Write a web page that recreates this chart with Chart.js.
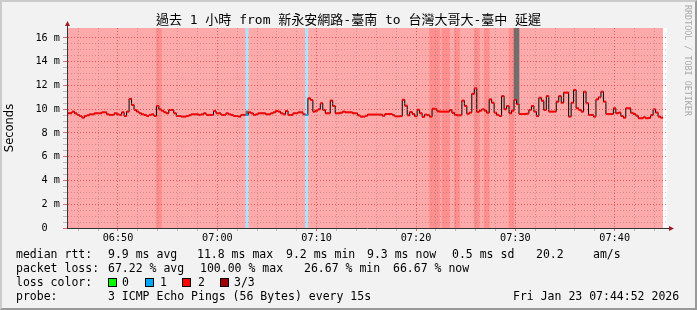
<!DOCTYPE html>
<html>
<head>
<meta charset="utf-8">
<script src="https://cdn.jsdelivr.net/npm/chart.js@4"></script>
<style>
  body { margin: 0; background: #fff; }
  #wrap { position: relative; width: 697px; height: 310px; background: #f2f2f2; overflow: hidden; }
  #wrap canvas { position: absolute; left: 0; top: 0; }
  .frame { position: absolute; left: 0; top: 0; width: 697px; height: 310px; box-sizing: border-box;
           border-style: solid; border-width: 2px; border-color: #cbcbcb #999 #999 #cbcbcb; pointer-events: none; }
  .txt { position: absolute; font: 11.5px "DejaVu Sans Mono", monospace; line-height: 14px; white-space: pre; color: #000; }
  .sw { position: absolute; width: 7px; height: 7px; border: 1px solid #000; }
  .credit { position: absolute; left: 683px; top: 5px; writing-mode: vertical-rl; font: 8.4px "DejaVu Sans Mono", monospace;
            line-height: 9px; color: #aaaaaa; }
</style>
</head>
<body>
<div id="wrap">
  <canvas id="rtt" width="697" height="310"></canvas>
  <div class="frame"></div>
  <div class="credit">RRDTOOL / TOBI OETIKER</div>

  <div class="txt" style="left:16px;top:247px">median rtt:</div>
  <div class="txt" style="left:108px;top:247px">9.9 ms avg</div>
  <div class="txt" style="left:197px;top:247px">11.8 ms max</div>
  <div class="txt" style="left:286px;top:247px">9.2 ms min</div>
  <div class="txt" style="left:367px;top:247px">9.3 ms now</div>
  <div class="txt" style="left:452px;top:247px">0.5 ms sd</div>
  <div class="txt" style="left:536px;top:247px">20.2</div>
  <div class="txt" style="left:593px;top:247px">am/s</div>

  <div class="txt" style="left:16px;top:261px">packet loss:</div>
  <div class="txt" style="left:108px;top:261px">67.22 % avg</div>
  <div class="txt" style="left:200px;top:261px">100.00 % max</div>
  <div class="txt" style="left:304px;top:261px">26.67 % min</div>
  <div class="txt" style="left:393px;top:261px">66.67 % now</div>

  <div class="txt" style="left:16px;top:275px">loss color:</div>
  <div class="sw" style="left:108px;top:278px;background:#00ff00"></div>
  <div class="txt" style="left:122px;top:275px">0</div>
  <div class="sw" style="left:145px;top:278px;background:#00a8ff"></div>
  <div class="txt" style="left:160px;top:275px">1</div>
  <div class="sw" style="left:182px;top:278px;background:#ff0000"></div>
  <div class="txt" style="left:198px;top:275px">2</div>
  <div class="sw" style="left:220px;top:278px;background:#a00000"></div>
  <div class="txt" style="left:234px;top:275px">3/3</div>

  <div class="txt" style="left:16px;top:289px">probe:</div>
  <div class="txt" style="left:108px;top:289px">3 ICMP Echo Pings (56 Bytes) every 15s</div>
  <div class="txt" style="left:513px;top:289px">Fri Jan 23 07:44:52 2026</div>
</div>

<script>
  // Time base: one hour of 15s steps, starting 06:44:52
  const startSec = 6 * 3600 + 44 * 60 + 52;
  const stepSec = 15;

  // Median RTT per step (ms)
  const medianRtt = [
    9.66, 9.66, 9.80, 9.66, 9.52, 9.43, 9.29, 9.43, 9.49, 9.57,
    9.57, 9.66, 9.66, 9.66, 9.74, 9.74, 9.57, 9.52, 9.52, 9.66,
    9.57, 9.52, 9.74, 9.43, 9.80, 10.87, 10.36, 9.94, 9.80, 9.66,
    9.57, 9.52, 9.43, 9.52, 9.57, 9.43, 10.27, 9.99, 9.88, 9.74,
    9.66, 9.94, 9.94, 9.66, 9.43, 9.43, 9.38, 9.38, 9.43, 9.49,
    9.57, 9.57, 9.57, 9.52, 9.57, 9.66, 9.52, 9.52, 9.52, 9.85,
    9.66, 9.66, 9.52, 9.52, 9.66, 9.57, 9.52, 9.43, 9.43, 9.38,
    9.52, 9.52, 9.52, 9.74, 9.66, 9.52, 9.57, 9.66, 9.66, 9.66,
    9.57, 9.57, 9.66, 9.74, 9.85, 9.80, 9.66, 9.57, 9.85, 9.52,
    9.52, 9.66, 9.66, 9.74, 9.74, 9.57, 9.52, 10.92, 10.78, 9.80,
    9.88, 9.99, 10.50, 9.94, 9.66, 9.66, 10.73, 10.27, 9.66, 9.66,
    9.71, 9.80, 9.74, 9.74, 9.74, 9.66, 9.66, 9.49, 9.38, 9.38,
    9.45, 9.55, 9.55, 9.55, 9.55, 9.55, 9.55, 9.45, 9.60, 9.60,
    9.60, 9.50, 9.40, 9.40, 9.42, 10.80, 10.30, 9.49, 9.77, 9.60,
    9.41, 9.96, 9.66, 9.36, 9.55, 9.50, 9.38, 10.04, 10.00, 9.82,
    9.80, 9.80, 9.80, 9.80, 9.92, 9.70, 9.52, 9.49, 9.49, 10.73,
    10.28, 9.62, 9.72, 11.30, 11.76, 9.78, 9.88, 9.99, 9.88, 9.71,
    10.83, 10.55, 9.71, 9.52, 9.43, 11.10, 10.00, 10.27, 9.66, 9.88,
    10.78, 10.44, 9.60, 9.60, 9.60, 9.63, 9.94, 10.27, 9.80, 9.43,
    10.97, 10.72, 9.94, 11.10, 9.80, 9.80, 9.80, 10.64, 11.10, 10.55,
    11.40, 11.40, 9.38, 10.55, 11.62, 10.08, 9.94, 9.80, 11.48, 10.50,
    9.52, 9.52, 9.38, 10.83, 11.00, 11.48, 10.64, 9.60, 9.60, 9.60,
    10.08, 9.66, 9.72, 9.43, 9.29, 10.08, 10.08, 9.70, 9.60, 9.46,
    9.24, 9.24, 9.32, 9.24, 9.27, 9.50, 9.99, 9.72, 9.38, 9.29
  ];

  // Steps with loss other than 2/3 (background bands)
  const lossHeavySteps = [36, 37, 146, 147, 148, 149, 151, 152, 153, 156, 157, 164, 165, 168, 169, 178, 179];
  const lossOneSteps = [72, 96];

  // Smoke (spread of pings) where visible: [step, low ms, high ms]
  const smokeSteps = [[72, 9.52, 9.85], [180, 10.78, 16.84], [181, 10.44, 16.84]];

  const yTop = 16.84;
  const yLabels = ['0  ', '2 m', '4 m', '6 m', '8 m', '10 m', '12 m', '14 m', '16 m'];
  const timeLabels = { 24600: '06:50', 25200: '07:00', 25800: '07:10', 26400: '07:20', 27000: '07:30', 27600: '07:40' };

  const times = medianRtt.map((_, i) => startSec + i * stepSec + stepSec / 2);
  const xMin = startSec;
  const xMax = startSec + 3624;

  const pink = '#ffaaaa';
  const bandColor = i => lossOneSteps.includes(i) ? '#b0e2fb' : '#ff8f8f';
  const lineColor = i => lossOneSteps.includes(i) ? '#00a8ff' : '#ff0000';

  const bands = times.map((t, i) => ({
    x: t,
    y: (lossHeavySteps.includes(i) || lossOneSteps.includes(i)) ? [0, yTop] : null
  }));
  const smoke = times.map((t, i) => {
    const s = smokeSteps.find(d => d[0] === i);
    return { x: t, y: s ? [s[1], s[2]] : null };
  });

  // pink data area + white tail, drawn under everything
  const backdrop = {
    id: 'backdrop',
    beforeDraw(chart) {
      const { ctx, chartArea: a, scales } = chart;
      ctx.save();
      ctx.fillStyle = '#fff';
      ctx.fillRect(a.left, a.top, a.right - a.left, a.bottom - a.top);
      const endX = scales.x.getPixelForValue(times[times.length - 1] + stepSec / 2);
      ctx.fillStyle = pink;
      ctx.fillRect(a.left, a.top, endX - a.left, a.bottom - a.top);
      ctx.restore();
    }
  };

  // rrdtool style arrows at the axis ends
  const arrows = {
    id: 'arrows',
    afterDraw(chart) {
      const { ctx, chartArea: a } = chart;
      ctx.save();
      ctx.strokeStyle = '#333';
      ctx.lineWidth = 1;
      ctx.beginPath();
      ctx.moveTo(a.left + 0.5, a.top);
      ctx.lineTo(a.left + 0.5, a.top - 3);
      ctx.moveTo(a.right, a.bottom + 0.5);
      ctx.lineTo(a.right + 3, a.bottom + 0.5);
      ctx.stroke();
      ctx.fillStyle = '#9b1c1c';
      ctx.beginPath();
      ctx.moveTo(a.left - 2, a.top - 2);
      ctx.lineTo(a.left + 3, a.top - 2);
      ctx.lineTo(a.left + 0.5, a.top - 7);
      ctx.closePath();
      ctx.fill();
      ctx.beginPath();
      ctx.moveTo(a.right + 2, a.bottom - 2);
      ctx.lineTo(a.right + 2, a.bottom + 3);
      ctx.lineTo(a.right + 7, a.bottom + 0.5);
      ctx.closePath();
      ctx.fill();
      ctx.restore();
    }
  };

  const majorGrid = 'rgba(215, 60, 60, 0.75)';
  const minorGrid = 'rgba(140, 110, 110, 0.45)';
  const tickFont = { family: 'DejaVu Sans Mono', size: 10.2 };

  new Chart(document.getElementById('rtt'), {
    type: 'line',
    data: {
      datasets: [
        {
          type: 'line',
          data: times.map((t, i) => ({ x: t, y: medianRtt[i] })),
          stepped: 'middle',
          borderColor: '#000',
          borderWidth: 1,
          pointStyle: 'line',
          pointRadius: 1.3,
          pointBorderWidth: 2,
          pointBorderColor: medianRtt.map((_, i) => lineColor(i)),
          pointBackgroundColor: medianRtt.map((_, i) => lineColor(i)),
          order: 1
        },
        {
          type: 'bar',
          data: smoke,
          backgroundColor: '#6e6e6e',
          borderWidth: 0,
          grouped: false,
          barPercentage: 1,
          categoryPercentage: 1,
          order: 2
        },
        {
          type: 'bar',
          data: bands,
          backgroundColor: times.map((_, i) => bandColor(i)),
          borderWidth: 0,
          grouped: false,
          barPercentage: 1,
          categoryPercentage: 1,
          order: 3
        }
      ]
    },
    options: {
      responsive: false,
      maintainAspectRatio: false,
      devicePixelRatio: 1,
      animation: false,
      events: [],
      layout: { padding: 0 },
      plugins: {
        legend: { display: false },
        tooltip: { enabled: false },
        title: {
          display: true,
          text: '過去 1 小時 from 新永安網路-臺南 to 台灣大哥大-臺中 延遲',
          color: '#000',
          font: { family: "'DejaVu Sans Mono', 'Noto Sans CJK TC'", size: 13, weight: 'normal', lineHeight: 1.2 },
          padding: { top: 12.4, bottom: 0 }
        }
      },
      scales: {
        x: {
          type: 'linear',
          min: xMin,
          max: xMax,
          offset: false,
          afterFit: s => { s.height = 82; },
          afterBuildTicks: s => {
            const list = [];
            for (let v = Math.ceil(xMin / 120) * 120; v <= xMax; v += 120) list.push({ value: v });
            s.ticks = list;
          },
          ticks: {
            autoSkip: false,
            maxRotation: 0,
            padding: 1,
            color: '#000',
            font: tickFont,
            callback: v => timeLabels[v] || ''
          },
          grid: {
            z: 1,
            offset: false,
            tickLength: 3,
            color: c => (c.tick && timeLabels[c.tick.value]) ? majorGrid : minorGrid
          },
          border: { color: '#333', dash: [1, 2], z: 2 }
        },
        y: {
          min: 0,
          max: yTop,
          afterFit: s => { s.width = 67; },
          afterBuildTicks: s => {
            const list = [];
            for (let v = 0; v <= 16; v += 0.5) list.push({ value: v });
            s.ticks = list;
          },
          ticks: {
            autoSkip: false,
            padding: 3,
            color: '#000',
            font: tickFont,
            callback: v => v % 2 === 0 ? yLabels[v / 2] : ''
          },
          grid: {
            z: 1,
            tickLength: 4,
            color: c => (c.tick && c.tick.value % 2 === 0) ? majorGrid : minorGrid
          },
          border: { color: '#333', dash: [1, 2], z: 2 },
          title: {
            display: true,
            text: 'Seconds',
            color: '#000',
            font: { family: 'DejaVu Sans', size: 11.5 },
            padding: { top: 3.5, bottom: 0 }
          }
        },
        y2: {
          position: 'right',
          min: 0,
          max: yTop,
          afterFit: s => { s.width = 30; },
          ticks: { display: false },
          grid: { display: false },
          border: { display: false }
        }
      }
    },
    plugins: [backdrop, arrows]
  });
</script>
</body>
</html>
